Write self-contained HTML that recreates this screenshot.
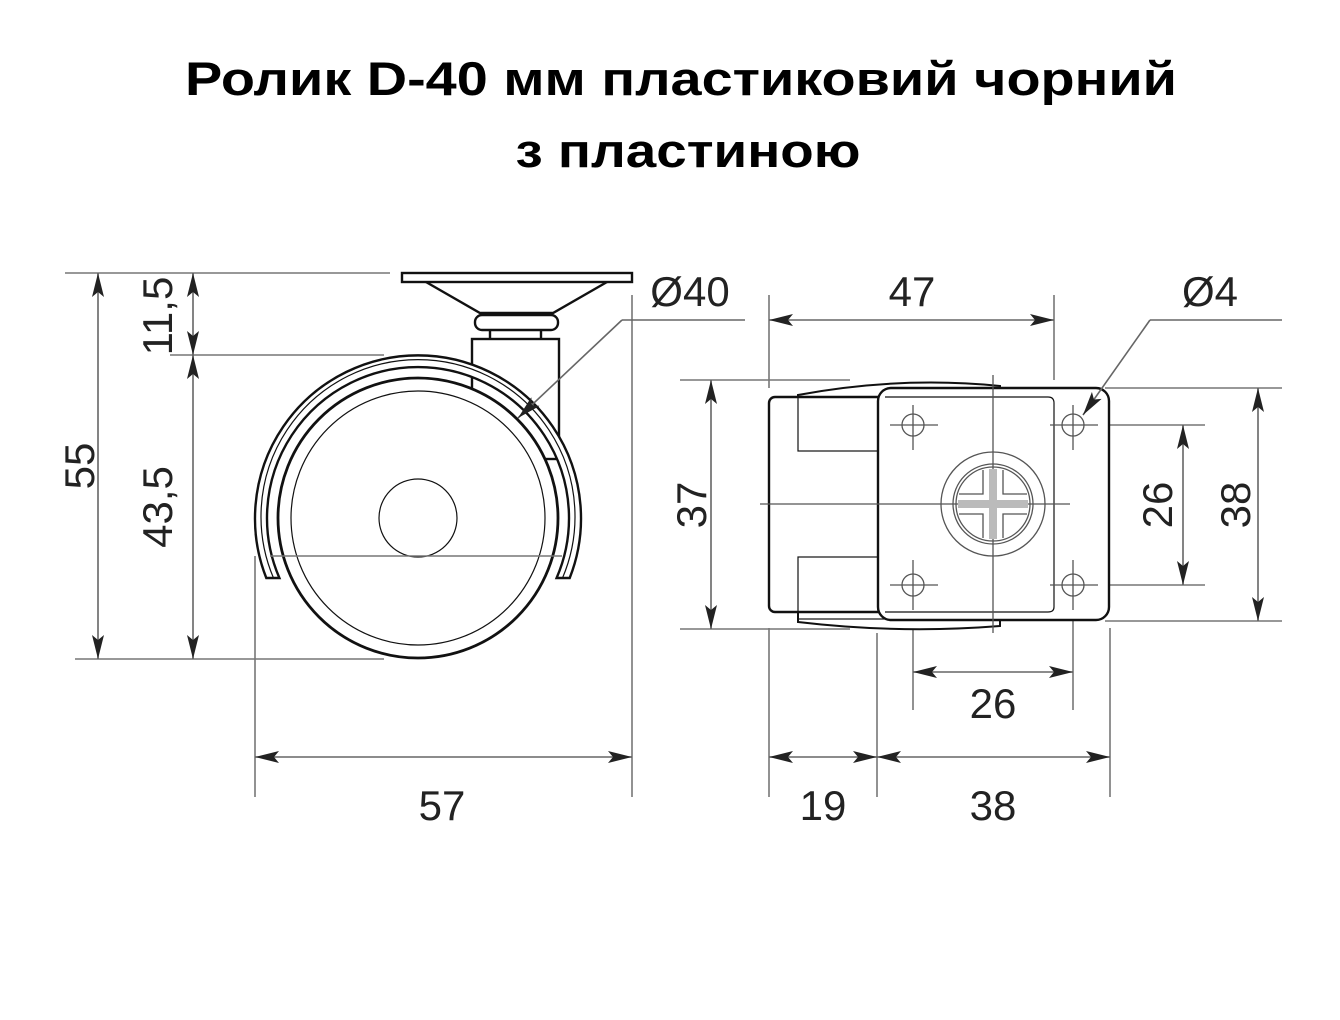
<!DOCTYPE html>
<html><head><meta charset="utf-8"><style>
html,body{margin:0;padding:0;background:#fff;}
svg{display:block;}
</style></head><body>
<svg width="1340" height="1020" viewBox="0 0 1340 1020" xmlns="http://www.w3.org/2000/svg">
<defs>
<marker id="a" viewBox="0 0 24 12" refX="24" refY="6" markerWidth="24" markerHeight="12" markerUnits="userSpaceOnUse" orient="auto-start-reverse">
<path d="M0,0 L24,6 L0,12 L5,6 Z" fill="#222"/>
</marker>
</defs>
<g font-family="'Liberation Sans','DejaVu Sans',sans-serif" font-weight="bold" fill="#000" text-anchor="middle">
<text x="681" y="95" font-size="47" textLength="992" lengthAdjust="spacingAndGlyphs">Ролик D-40 мм пластиковий чорний</text>
<text x="688" y="167" font-size="47" textLength="345" lengthAdjust="spacingAndGlyphs">з пластиною</text>
</g>

<g stroke="#777" stroke-width="1.6" fill="none">
<line x1="65" y1="273" x2="390" y2="273"/>
<line x1="170" y1="355" x2="384" y2="355"/>
<line x1="75" y1="659" x2="384" y2="659"/>
<line x1="255" y1="556" x2="255" y2="797"/>
<line x1="632" y1="295" x2="632" y2="797"/>
<line x1="769" y1="295" x2="769" y2="388"/>
<line x1="1054" y1="295" x2="1054" y2="380"/>
<line x1="680" y1="380" x2="850" y2="380"/>
<line x1="680" y1="629" x2="850" y2="629"/>
<line x1="1105" y1="388" x2="1282" y2="388"/>
<line x1="1105" y1="621" x2="1282" y2="621"/>
<line x1="1060" y1="425" x2="1205" y2="425"/>
<line x1="1060" y1="585" x2="1205" y2="585"/>
<line x1="769" y1="628" x2="769" y2="797"/>
<line x1="877" y1="633" x2="877" y2="797"/>
<line x1="1110" y1="628" x2="1110" y2="797"/>
<line x1="913" y1="575" x2="913" y2="710"/>
<line x1="1073" y1="575" x2="1073" y2="710"/>
</g>

<g stroke="#666" stroke-width="1.6" fill="none">
<line x1="98" y1="273" x2="98" y2="659" marker-start="url(#a)" marker-end="url(#a)"/>
<line x1="193" y1="273" x2="193" y2="355" marker-start="url(#a)" marker-end="url(#a)"/>
<line x1="193" y1="355" x2="193" y2="659" marker-start="url(#a)" marker-end="url(#a)"/>
<line x1="255" y1="757" x2="632" y2="757" marker-start="url(#a)" marker-end="url(#a)"/>
<line x1="769" y1="320" x2="1054" y2="320" marker-start="url(#a)" marker-end="url(#a)"/>
<line x1="711" y1="380" x2="711" y2="629" marker-start="url(#a)" marker-end="url(#a)"/>
<line x1="1258" y1="388" x2="1258" y2="621" marker-start="url(#a)" marker-end="url(#a)"/>
<line x1="1183" y1="425" x2="1183" y2="585" marker-start="url(#a)" marker-end="url(#a)"/>
<line x1="913" y1="672" x2="1073" y2="672" marker-start="url(#a)" marker-end="url(#a)"/>
<line x1="769" y1="757" x2="877" y2="757" marker-start="url(#a)" marker-end="url(#a)"/>
<line x1="877" y1="757" x2="1110" y2="757" marker-start="url(#a)" marker-end="url(#a)"/>
</g>

<!-- left view drawing -->
<g stroke="#111" stroke-width="2.4" fill="#fff">
<rect x="402" y="273" width="230" height="9"/>
<path d="M426,282 L480,313 L553,313 L607,282" fill="none"/>
<rect x="490" y="328" width="51" height="12"/>
<rect x="475" y="315" width="83" height="15" rx="7"/>
<rect x="472" y="339" width="87" height="120"/>
<circle cx="418" cy="518" r="140" stroke-width="2.8"/>
<circle cx="418" cy="518" r="127" stroke-width="1.2" fill="none"/>
<circle cx="418" cy="518" r="39" stroke-width="1.2" fill="none"/>
<path d="M266.3,578 A163,163 0 1 1 569.7,578 L556.6,578 A151,151 0 1 0 279.4,578 Z"/>
<path d="M273.5,578 A157,157 0 1 1 562.5,578" fill="none" stroke-width="1.2"/>
</g>
<line x1="270" y1="556" x2="562" y2="556" stroke="#777" stroke-width="1.6"/>

<!-- right view drawing -->
<g stroke="#111" stroke-width="2.4" fill="#fff">
<path d="M798,395 Q900,376 1000,386 L1000,626 Q900,634 798,622 Z" stroke-width="2"/>
<rect x="769" y="397" width="285" height="215" rx="6"/>
<rect x="798" y="397" width="242" height="54" stroke-width="1.2" fill="none"/>
<rect x="798" y="557" width="242" height="62" stroke-width="1.2" fill="none"/>
<rect x="878" y="388" width="231" height="232" rx="13"/>
<path d="M885,397 L1048,397 Q1054,397 1054,403 L1054,607 Q1054,612 1048,612 L885,612" fill="none" stroke-width="1.2"/>
</g>
<g stroke="#555" stroke-width="1.3" fill="none">
<line x1="993" y1="375" x2="993" y2="633"/>
<line x1="760" y1="504" x2="1070" y2="504"/>
<circle cx="993" cy="504" r="52"/>
<circle cx="993" cy="504" r="40"/>
<circle cx="993" cy="504" r="37"/>
<path d="M983,470 L983,494 L959,494 M959,514 L983,514 L983,538 M1003,538 L1003,514 L1027,514 M1027,494 L1003,494 L1003,470"/>
<circle cx="913" cy="425" r="11"/>
<circle cx="1073" cy="425" r="11"/>
<circle cx="913" cy="585" r="11"/>
<circle cx="1073" cy="585" r="11"/>
<line x1="890" y1="425" x2="938" y2="425"/><line x1="913" y1="405" x2="913" y2="450"/>
<line x1="1050" y1="425" x2="1098" y2="425"/><line x1="1073" y1="405" x2="1073" y2="450"/>
<line x1="890" y1="585" x2="938" y2="585"/><line x1="913" y1="560" x2="913" y2="610"/>
<line x1="1050" y1="585" x2="1098" y2="585"/><line x1="1073" y1="560" x2="1073" y2="610"/>
</g>
<rect x="958" y="500" width="70" height="8" fill="#bbb"/>
<rect x="989" y="469" width="8" height="70" fill="#bbb"/>

<g stroke="#666" stroke-width="1.6" fill="none">
<line x1="745" y1="320" x2="622" y2="320"/>
<line x1="622" y1="320" x2="518" y2="418" marker-end="url(#a)"/>
<line x1="1150" y1="320" x2="1282" y2="320"/>
<line x1="1150" y1="320" x2="1083" y2="415" marker-end="url(#a)"/>
</g>

<g font-family="'Liberation Sans',sans-serif" font-size="42" fill="#222" text-anchor="middle">
<text x="690" y="306">Ø40</text>
<text x="912" y="306">47</text>
<text x="1210" y="306">Ø4</text>
<text x="442" y="820">57</text>
<text x="823" y="820">19</text>
<text x="993" y="820">38</text>
<text x="993" y="718">26</text>
<text transform="translate(94,466) rotate(-90)">55</text>
<text transform="translate(172,316) rotate(-90)">11,5</text>
<text transform="translate(172,507) rotate(-90)">43,5</text>
<text transform="translate(706,505) rotate(-90)">37</text>
<text transform="translate(1172,505) rotate(-90)">26</text>
<text transform="translate(1250,505) rotate(-90)">38</text>
</g>
</svg>
</body></html>
